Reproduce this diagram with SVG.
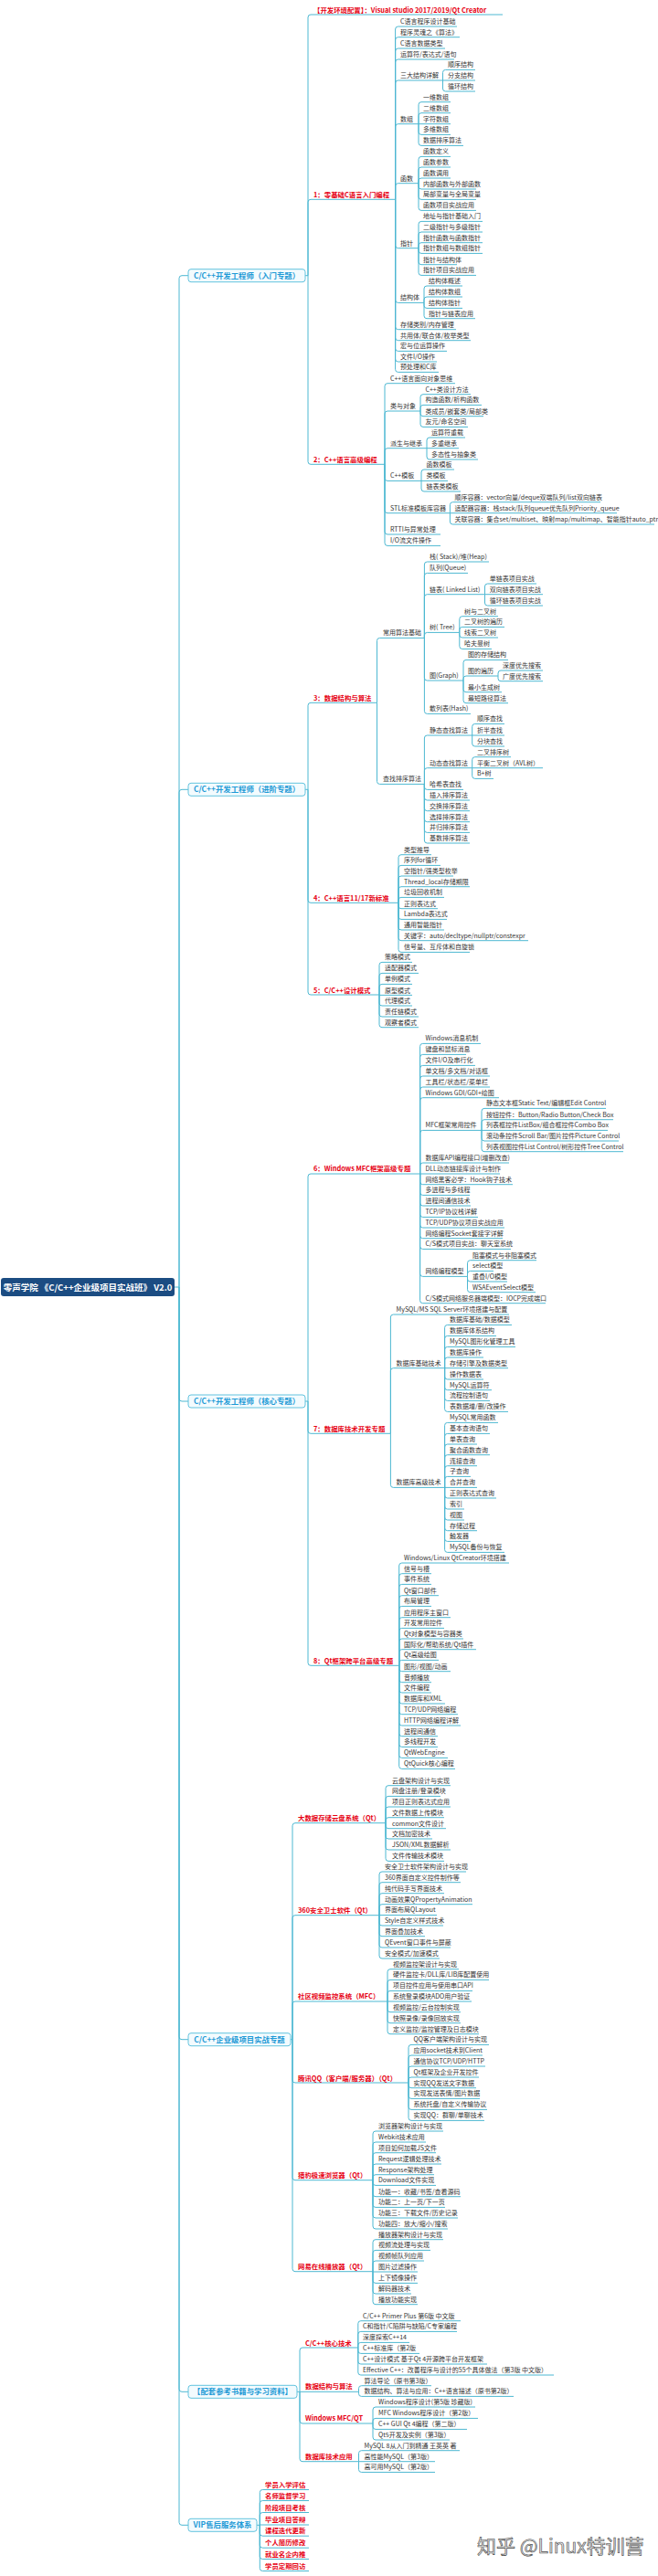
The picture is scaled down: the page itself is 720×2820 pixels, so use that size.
<svg xmlns="http://www.w3.org/2000/svg" width="720" height="2820" viewBox="0 0 720 2820">
<style>
text{font-family:"Noto Sans CJK SC","Noto Sans",sans-serif}
.l{font-size:7px;fill:#333}
.r{font-size:7.4px;font-weight:bold;fill:#e60012}
.b{font-size:8.4px;font-weight:bold;fill:#1e9ad6;text-anchor:middle}
.bx{fill:#f3fbfe;stroke:#62c3de;stroke-width:1}
.c path{fill:none;stroke:#4db8d2;stroke-width:1}
</style>
<rect width="720" height="2820" fill="#fff"/>
<g id="connectors" class="c">
<path d="M191 1409H196M196 1409V304.7q0-3 3-3H206M196 1409V867.3q0-3 3-3H206M196 1409V1531q0 3 3 3H206M196 1409V2229.7q0 3 3 3H206M196 1409V2615.3q0 3 3 3H206M196 1409V2761.3q0 3 3 3H206"/>
<path d="M334 301.7H337M337 301.7V19q0-3 3-3H550M337 301.7V221.3q0-3 3-3H432.6M337 301.7V505.3q0 3 3 3H421"/>
<path d="M432.6 218.3V32q0-3 3-3H500M432.6 218.3V43.7q0-3 3-3H503M432.6 218.3V56q0-3 3-3H487M432.6 218.3V68q0-3 3-3H497M432.6 218.3V91q0-3 3-3H484.5M432.6 218.3V138.7q0-3 3-3H458M432.6 218.3V203.7q0-3 3-3H458M432.6 218.3V268.7q0 3 3 3H458M432.6 218.3V328.4q0 3 3 3H464M432.6 218.3V357.7q0 3 3 3H499M432.6 218.3V369.7q0 3 3 3H515M432.6 218.3V381.4q0 3 3 3H489M432.6 218.3V393q0 3 3 3H478M432.6 218.3V404.4q0 3 3 3H480"/>
<path d="M484.5 88V79.4q0-3 3-3H520M484.5 88H520M484.5 88V97q0 3 3 3H520"/>
<path d="M458 135.7V114.7q0-3 3-3H493M458 135.7V126.7q0-3 3-3H493M458 135.7H493M458 135.7V144.4q0 3 3 3H493M458 135.7V156.4q0 3 3 3H507"/>
<path d="M458 200.7V174.4q0-3 3-3H493M458 200.7V186q0-3 3-3H493M458 200.7V198q0-3 3-3H493M458 200.7V204q0 3 3 3H521M458 200.7V215.4q0 3 3 3H521M458 200.7V227.4q0 3 3 3H521"/>
<path d="M458 271.7V245.4q0-3 3-3H528M458 271.7V257q0-3 3-3H528M458 271.7V268.7q0-3 3-3H528M458 271.7V274.4q0 3 3 3H528M458 271.7V286.7q0 3 3 3H500M458 271.7V298.4q0 3 3 3H521"/>
<path d="M464 331.4V316q0-3 3-3H506M464 331.4V328q0-3 3-3H506M464 331.4V334.4q0 3 3 3H506M464 331.4V345.7q0 3 3 3H520"/>
<path d="M421 508.3V422.7q0-3 3-3H498M421 508.3V453q0-3 3-3H460M421 508.3V493.7q0-3 3-3H467M421 508.3V523.4q0 3 3 3H461M421 508.3V558.7q0 3 3 3H492.4M421 508.3V582q0 3 3 3H482M421 508.3V594.4q0 3 3 3H482"/>
<path d="M460 450V434.7q0-3 3-3H515M460 450V446.4q0-3 3-3H527M460 450V452.7q0 3 3 3H529M460 450V464.4q0 3 3 3H512"/>
<path d="M467 490.7V482q0-3 3-3H509M467 490.7H502M467 490.7V500q0 3 3 3H523"/>
<path d="M461 526.4V517q0-3 3-3H497M461 526.4H490M461 526.4V535q0 3 3 3H504"/>
<path d="M492.4 561.7V552.7q0-3 3-3H657M492.4 561.7H675M492.4 561.7V571q0 3 3 3H716"/>
<path d="M334 864.3H337M337 864.3V772.3q0-3 3-3H412.5M337 864.3V985.3q0 3 3 3H436M337 864.3V1086q0 3 3 3H415"/>
<path d="M412.5 769.3V701.4q0-3 3-3H464.4M412.5 769.3V855.4q0 3 3 3H464.4"/>
<path d="M464.4 698.4V618q0-3 3-3H535M464.4 698.4V630.4q0-3 3-3H512M464.4 698.4V653.7q0-3 3-3H530.5M464.4 698.4V695.4q0-3 3-3H502.8M464.4 698.4V742q0 3 3 3H507M464.4 698.4V778.4q0 3 3 3H515"/>
<path d="M530.5 650.7V642q0-3 3-3H587M530.5 650.7H594M530.5 650.7V660q0 3 3 3H594"/>
<path d="M502.8 692.4V677.7q0-3 3-3H545M502.8 692.4V689.4q0-3 3-3H552M502.8 692.4V695q0 3 3 3H545M502.8 692.4V707.4q0 3 3 3H538"/>
<path d="M507 745V725.4q0-3 3-3H556M507 745V743q0-3 3-3H545M507 745V754.7q0 3 3 3H549M507 745V766.7q0 3 3 3H556"/>
<path d="M545 740V737q0-3 3-3H594M545 740V742.7q0 3 3 3H594"/>
<path d="M464.4 858.4V808q0-3 3-3H516.7M464.4 858.4V843.7q0-3 3-3H516.7M464.4 858.4V861.4q0 3 3 3H507M464.4 858.4V873q0 3 3 3H514M464.4 858.4V884.7q0 3 3 3H514M464.4 858.4V896.7q0 3 3 3H514M464.4 858.4V908.4q0 3 3 3H514M464.4 858.4V920q0 3 3 3H514"/>
<path d="M516.7 805V795.4q0-3 3-3H552M516.7 805H552M516.7 805V814q0 3 3 3H552"/>
<path d="M516.7 840.7V831.7q0-3 3-3H559M516.7 840.7H594M516.7 840.7V849.4q0 3 3 3H540"/>
<path d="M436 988.3V938.7q0-3 3-3H472M436 988.3V950.4q0-3 3-3H482M436 988.3V962q0-3 3-3H496M436 988.3V973.7q0-3 3-3H514M436 988.3V985.4q0-3 3-3H486M436 988.3V991.7q0 3 3 3H479M436 988.3V1003.4q0 3 3 3H489M436 988.3V1015q0 3 3 3H486M436 988.3V1026.7q0 3 3 3H578M436 988.3V1039.4q0 3 3 3H514"/>
<path d="M415 1089V1056.4q0-3 3-3H451M415 1089V1068.4q0-3 3-3H458M415 1089V1080.4q0-3 3-3H451M415 1089.4H451M415 1089V1098q0 3 3 3H451M415 1089V1110q0 3 3 3H458M415 1089V1121.7q0 3 3 3H458"/>
<path d="M334 1534H337M337 1534V1288q0-3 3-3H459.6M337 1534V1566.3q0 3 3 3H427.4M337 1534V1820.3q0 3 3 3H436.7"/>
<path d="M459.6 1285V1145.4q0-3 3-3H526M459.6 1285V1157.4q0-3 3-3H510M459.6 1285V1169.4q0-3 3-3H520M459.6 1285V1181q0-3 3-3H536M459.6 1285V1193q0-3 3-3H536M459.6 1285V1204.7q0-3 3-3H546M459.6 1285V1240.4q0-3 3-3H527M459.6 1285V1276q0-3 3-3H557M459.6 1285H547M459.6 1285V1293.7q0 3 3 3H561M459.6 1285V1305.4q0 3 3 3H514M459.6 1285V1317q0 3 3 3H515M459.6 1285V1329.4q0 3 3 3H523M459.6 1285V1341q0 3 3 3H552M459.6 1285V1352.7q0 3 3 3H550M459.6 1285V1364.4q0 3 3 3H559M459.6 1285V1394.4q0 3 3 3H511.5M459.6 1285V1423.7q0 3 3 3H597"/>
<path d="M527 1237.4V1216.4q0-3 3-3H663M527 1237.4V1228.7q0-3 3-3H671M527 1237.4H665M527 1237.4V1246q0 3 3 3H677M527 1237.4V1257.7q0 3 3 3H682"/>
<path d="M511.5 1397.4V1382.7q0-3 3-3H587M511.5 1397.4V1394.4q0-3 3-3H540M511.5 1397.4V1400q0 3 3 3H555M511.5 1397.4V1411.7q0 3 3 3H586"/>
<path d="M427.4 1569.3V1442q0-3 3-3H557M427.4 1569.3V1500.7q0-3 3-3H486.6M427.4 1569.3V1625.4q0 3 3 3H486.6"/>
<path d="M486.6 1497.7V1453.4q0-3 3-3H560M486.6 1497.7V1465.4q0-3 3-3H543M486.6 1497.7V1477.4q0-3 3-3H564M486.6 1497.7V1489q0-3 3-3H529M486.6 1497.7H556M486.6 1497.7V1507q0 3 3 3H529M486.6 1497.7V1518.7q0 3 3 3H538M486.6 1497.7V1530.4q0 3 3 3H536M486.6 1497.7V1542.4q0 3 3 3H556"/>
<path d="M486.6 1628.4V1560.4q0-3 3-3H545M486.6 1628.4V1572.4q0-3 3-3H536M486.6 1628.4V1584q0-3 3-3H522M486.6 1628.4V1595.7q0-3 3-3H536M486.6 1628.4V1607.7q0-3 3-3H522M486.6 1628.4V1619.4q0-3 3-3H515M486.6 1628.4H522M486.6 1628.4V1637q0 3 3 3H543M486.6 1628.4V1649q0 3 3 3H508M486.6 1628.4V1661q0 3 3 3H508M486.6 1628.4V1672.7q0 3 3 3H522M486.6 1628.4V1684.4q0 3 3 3H515M486.6 1628.4V1696.4q0 3 3 3H552"/>
<path d="M436.7 1823.3V1714q0-3 3-3H557M436.7 1823.3V1725.7q0-3 3-3H472M436.7 1823.3V1737.4q0-3 3-3H472M436.7 1823.3V1749.7q0-3 3-3H480M436.7 1823.3V1761.4q0-3 3-3H472M436.7 1823.3V1773.7q0-3 3-3H493M436.7 1823.3V1785.4q0-3 3-3H486M436.7 1823.3V1797q0-3 3-3H507M436.7 1823.3V1808.7q0-3 3-3H521M436.7 1823.3V1820.4q0-3 3-3H480M436.7 1823.3V1826.7q0 3 3 3H493M436.7 1823.3V1838.7q0 3 3 3H472M436.7 1823.3V1850q0 3 3 3H472M436.7 1823.3V1862q0 3 3 3H487M436.7 1823.3V1873.7q0 3 3 3H501M436.7 1823.3V1886q0 3 3 3H504M436.7 1823.3V1897.7q0 3 3 3H479M436.7 1823.3V1909.4q0 3 3 3H479M436.7 1823.3V1921.4q0 3 3 3H490M436.7 1823.3V1933.4q0 3 3 3H498"/>
<path d="M318 2232.7H320M320 2232.7V1998.7q0-3 3-3H422M320 2232.7V2099.7q0-3 3-3H415M320 2232.7V2194q0-3 3-3H424M320 2232.7V2277q0 3 3 3H447M320 2232.7V2383.7q0 3 3 3H408M320 2232.7V2483.7q0 3 3 3H408"/>
<path d="M422 1995.7V1957.7q0-3 3-3H493M422 1995.7V1969.4q0-3 3-3H482M422 1995.7V1981q0-3 3-3H493M422 1995.7V1992.7q0-3 3-3H486M422 1995.7V1998.7q0 3 3 3H488M422 1995.7V2010q0 3 3 3H473M422 1995.7V2022q0 3 3 3H493M422 1995.7V2034.4q0 3 3 3H486"/>
<path d="M415 2096.7V2052q0-3 3-3H510M415 2096.7V2063.7q0-3 3-3H504M415 2096.7V2075.7q0-3 3-3H486M415 2096.7V2087.7q0-3 3-3H517M415 2096.5H478M415 2096.7V2105q0 3 3 3H485M415 2096.7V2116.7q0 3 3 3H465M415 2096.7V2129q0 3 3 3H493M415 2096.7V2141q0 3 3 3H481"/>
<path d="M424 2191V2158.7q0-3 3-3H502M424 2191V2170.4q0-3 3-3H535M424 2191V2182.4q0-3 3-3H517M424 2191H516M424 2191V2199.7q0 3 3 3H504M424 2191V2211.7q0 3 3 3H504M424 2191V2223.7q0 3 3 3H524"/>
<path d="M447 2280V2241.4q0-3 3-3H535M447 2280V2253q0-3 3-3H528M447 2280V2265q0-3 3-3H531M447 2280V2277q0-3 3-3H524M447 2280V2282.7q0 3 3 3H521M447 2280V2294.4q0 3 3 3H525M447 2280V2306.4q0 3 3 3H533M447 2280V2318.4q0 3 3 3H530"/>
<path d="M408 2386.7V2336q0-3 3-3H485M408 2386.7V2348q0-3 3-3H466M408 2386.7V2359.7q0-3 3-3H477M408 2386.7V2372q0-3 3-3H483M408 2386.7V2383.7q0-3 3-3H475M408 2386.7V2389.4q0 3 3 3H477M408 2386.7V2401.7q0 3 3 3H504M408 2386.7V2413.4q0 3 3 3H487M408 2386.7V2425q0 3 3 3H501M408 2386.7V2437q0 3 3 3H490"/>
<path d="M408 2486.7V2454.7q0-3 3-3H485M408 2486.7V2466.4q0-3 3-3H471M408 2486.7V2478q0-3 3-3H464M408 2487H457M408 2486.7V2496.4q0 3 3 3H457M408 2486.7V2508q0 3 3 3H450M408 2486.7V2519.7q0 3 3 3H457"/>
<path d="M325 2618.3H328M328 2618.3V2573q0-3 3-3H391.8M328 2618.3H392.5M328 2618.3V2650q0 3 3 3H408M328 2618.3V2691.7q0 3 3 3H392.5"/>
<path d="M391.8 2570V2543.7q0-3 3-3H504M391.8 2570V2555.4q0-3 3-3H500M391.8 2570V2567.4q0-3 3-3H448M391.8 2570V2573.4q0 3 3 3H459M391.8 2570V2585q0 3 3 3H533M391.8 2570V2597q0 3 3 3H606"/>
<path d="M392.5 2618.3V2614.7q0-3 3-3H472M392.5 2618.3V2620.4q0 3 3 3H562"/>
<path d="M408 2653V2638q0-3 3-3H520M408 2653V2650.4q0-3 3-3H523M408 2653V2656.4q0 3 3 3H511M408 2653V2668q0 3 3 3H492"/>
<path d="M392.5 2694.7V2685.7q0-3 3-3H503M392.5 2694.7H476M392.5 2694.7V2703.4q0 3 3 3H476"/>
<path d="M281 2764.3H284.3M284.3 2764.3V2728.5q0-3 3-3H338M284.3 2764.3V2740.5q0-3 3-3H338M284.3 2764.3V2753.5q0-3 3-3H338M284.3 2764H338M284.3 2764.3V2773.2q0 3 3 3H338M284.3 2764.3V2786.2q0 3 3 3H338M284.3 2764.3V2798.5q0 3 3 3H338M284.3 2764.3V2811.5q0 3 3 3H338"/>
</g>
<g id="root"><rect x="1" y="1399" width="190" height="20" rx="3" fill="#1b4c82"/><text x="96" y="1412.5" font-size="9.5" font-weight="bold" fill="#fff" text-anchor="middle">零声学院 《C/C++企业级项目实战班》 V2.0</text></g>
<g id="t1"><rect class="bx" x="206" y="294.7" width="128" height="14" rx="3"/><text class="b" x="270" y="304.7">C/C++开发工程师（入门专题）</text></g>
<g id="t2"><rect class="bx" x="206" y="857.3" width="128" height="14" rx="3"/><text class="b" x="270" y="867.3">C/C++开发工程师（进阶专题）</text></g>
<g id="t3"><rect class="bx" x="206" y="1527" width="128" height="14" rx="3"/><text class="b" x="270" y="1537">C/C++开发工程师（核心专题）</text></g>
<g id="t4"><rect class="bx" x="206" y="2225.7" width="112" height="14" rx="3"/><text class="b" x="262" y="2235.7">C/C++企业级项目实战专题</text></g>
<g id="t5"><rect class="bx" x="206" y="2611.3" width="119" height="14" rx="3"/><text class="b" x="265.5" y="2621.3">【配套参考书籍与学习资料】</text></g>
<g id="t6"><rect class="bx" x="206" y="2757.3" width="75" height="14" rx="3"/><text class="b" x="243.5" y="2767.3">VIP售后服务体系</text></g>
<g id="s-red" class="r">
<g id="s0"><text x="343" y="13.5">【开发环境配置】：Visual studio 2017/2019/Qt Creator</text></g>
<g id="s1"><text x="343" y="215.8">1：零基础C语言入门编程</text></g>
<g id="s2"><text x="343" y="505.8">2：C++语言高级编程</text></g>
<g id="s3"><text x="343" y="766.8">3：数据结构与算法</text></g>
<g id="s4"><text x="343" y="985.8">4：C++语言11/17新标准</text></g>
<g id="s5"><text x="343" y="1086.5">5：C/C++设计模式</text></g>
<g id="s6"><text x="343" y="1281.8">6：Windows MFC框架高级专题</text></g>
<g id="s7"><text x="343" y="1566.5">7：数据库技术开发专题</text></g>
<g id="s8"><text x="343" y="1820.8">8：Qt框架跨平台高级专题</text></g>
<g id="p1"><text x="326" y="1992.5">大数据存储云盘系统（Qt）</text></g>
<g id="p2"><text x="326" y="2093.5">360安全卫士软件（Qt）</text></g>
<g id="p3"><text x="326" y="2188.2">社区视频监控系统（MFC）</text></g>
<g id="p4"><text x="326" y="2277.5">腾讯QQ（客户端/服务器）（Qt）</text></g>
<g id="p5"><text x="326" y="2384.2">猎豹极速浏览器（Qt）</text></g>
<g id="p6"><text x="326" y="2484.2">网易在线播放器（Qt）</text></g>
<g id="k1"><text x="334" y="2567.5">C/C++核心技术</text></g>
<g id="k2"><text x="334" y="2615.2">数据结构与算法</text></g>
<g id="k3"><text x="334" y="2650.2">Windows MFC/QT</text></g>
<g id="k4"><text x="334" y="2691.8">数据库技术应用</text></g>
<g id="v1"><text x="290" y="2722.7">学员入学评估</text></g>
<g id="v2"><text x="290" y="2734.7">名师监督学习</text></g>
<g id="v3"><text x="290" y="2747.7">阶段项目考核</text></g>
<g id="v4"><text x="290" y="2761">毕业项目答辩</text></g>
<g id="v5"><text x="290" y="2773.4">课程迭代更新</text></g>
<g id="v6"><text x="290" y="2786.4">个人简历修改</text></g>
<g id="v7"><text x="290" y="2798.7">就业名企内推</text></g>
<g id="v8"><text x="290" y="2811.7">学员定期回访</text></g>
</g>
<g id="leaves" class="l">
<g id="a1"><text x="438" y="25.8">C语言程序设计基础</text></g>
<g id="a2"><text x="438" y="37.5">程序灵魂之《算法》</text></g>
<g id="a3"><text x="438" y="49.8">C语言数据类型</text></g>
<g id="a4"><text x="438" y="61.8">运算符/表达式/语句</text></g>
<g id="a5"><text x="438" y="84.8">三大结构详解</text></g>
<g id="a5a"><text x="490" y="73.2">顺序结构</text></g>
<g id="a5b"><text x="490" y="84.8">分支结构</text></g>
<g id="a5c"><text x="490" y="96.8">循环结构</text></g>
<g id="a6"><text x="438" y="132.5">数组</text></g>
<g id="a6a"><text x="463" y="108.5">一维数组</text></g>
<g id="a6b"><text x="463" y="120.5">二维数组</text></g>
<g id="a6c"><text x="463" y="132.5">字符数组</text></g>
<g id="a6d"><text x="463" y="144.2">多维数组</text></g>
<g id="a6e"><text x="463" y="156.2">数据排序算法</text></g>
<g id="a7"><text x="438" y="197.5">函数</text></g>
<g id="a7a"><text x="463" y="168.2">函数定义</text></g>
<g id="a7b"><text x="463" y="179.8">函数参数</text></g>
<g id="a7c"><text x="463" y="191.8">函数调用</text></g>
<g id="a7d"><text x="463" y="203.8">内部函数与外部函数</text></g>
<g id="a7e"><text x="463" y="215.2">局部变量与全局变量</text></g>
<g id="a7f"><text x="463" y="227.2">函数项目实战应用</text></g>
<g id="a8"><text x="438" y="268.5">指针</text></g>
<g id="a8a"><text x="463" y="239.2">地址与指针基础入门</text></g>
<g id="a8b"><text x="463" y="250.8">二级指针与多级指针</text></g>
<g id="a8c"><text x="463" y="262.5">指针函数与函数指针</text></g>
<g id="a8d"><text x="463" y="274.2">指针数组与数组指针</text></g>
<g id="a8e"><text x="463" y="286.5">指针与结构体</text></g>
<g id="a8f"><text x="463" y="298.2">指针项目实战应用</text></g>
<g id="a9"><text x="438" y="328.2">结构体</text></g>
<g id="a9a"><text x="469" y="309.8">结构体概述</text></g>
<g id="a9b"><text x="469" y="321.8">结构体数组</text></g>
<g id="a9c"><text x="469" y="334.2">结构体指针</text></g>
<g id="a9d"><text x="469" y="345.5">指针与链表应用</text></g>
<g id="a10"><text x="438" y="357.5">存储类别/内存管理</text></g>
<g id="a11"><text x="438" y="369.5">共用体/联合体/枚举类型</text></g>
<g id="a12"><text x="438" y="381.2">宏与位运算操作</text></g>
<g id="a13"><text x="438" y="392.8">文件I/O操作</text></g>
<g id="a14"><text x="438" y="404.2">预处理和C库</text></g>
<g id="b1"><text x="427" y="416.5">C++语言面向对象思维</text></g>
<g id="b2"><text x="427" y="446.8">类与对象</text></g>
<g id="b2a"><text x="465.5" y="428.5">C++类设计方法</text></g>
<g id="b2b"><text x="465.5" y="440.2">构造函数/析构函数</text></g>
<g id="b2c"><text x="465.5" y="452.5">类成员/嵌套类/局部类</text></g>
<g id="b2d"><text x="465.5" y="464.2">友元/命名空间</text></g>
<g id="b3"><text x="427" y="487.5">派生与继承</text></g>
<g id="b3a"><text x="472" y="475.8">运算符重载</text></g>
<g id="b3b"><text x="472" y="487.5">多重继承</text></g>
<g id="b3c"><text x="472" y="499.8">多态性与抽象类</text></g>
<g id="b4"><text x="427" y="523.2">C++模板</text></g>
<g id="b4a"><text x="466.5" y="510.8">函数模板</text></g>
<g id="b4b"><text x="466.5" y="523.2">类模板</text></g>
<g id="b4c"><text x="466.5" y="534.8">链表类模板</text></g>
<g id="b5"><text x="427" y="558.5">STL标准模板库容器</text></g>
<g id="b5a"><text x="497.6" y="546.5">顺序容器：vector向量/deque双端队列/list双向链表</text></g>
<g id="b5b"><text x="497.6" y="558.5">适配器容器：栈stack/队列queue优先队列Priority_queue</text></g>
<g id="b5c"><text x="497.6" y="570.8">关联容器：集合set/multiset、映射map/multimap、智能指针auto_ptr</text></g>
<g id="b6"><text x="427" y="581.8">RTTI与异常处理</text></g>
<g id="b7"><text x="427" y="594.2">I/O流文件操作</text></g>
<g id="c1"><text x="419" y="695.2">常用算法基础</text></g>
<g id="c1a"><text x="470" y="611.8">栈( Stack)/堆(Heap)</text></g>
<g id="c1b"><text x="470" y="624.2">队列(Queue)</text></g>
<g id="c1c"><text x="470" y="647.5">链表( Linked List)</text></g>
<g id="c1c1"><text x="535.7" y="635.8">单链表项目实战</text></g>
<g id="c1c2"><text x="535.7" y="647.5">双向链表项目实战</text></g>
<g id="c1c3"><text x="535.7" y="659.8">循环链表项目实战</text></g>
<g id="c1d"><text x="470" y="689.2">树( Tree)</text></g>
<g id="c1d1"><text x="508" y="671.5">树与二叉树</text></g>
<g id="c1d2"><text x="508" y="683.2">二叉树的遍历</text></g>
<g id="c1d3"><text x="508" y="694.8">线索二叉树</text></g>
<g id="c1d4"><text x="508" y="707.2">哈夫曼树</text></g>
<g id="c1e"><text x="470" y="741.8">图(Graph)</text></g>
<g id="c1e1"><text x="512" y="719.2">图的存储结构</text></g>
<g id="c1e2"><text x="512" y="736.8">图的遍历</text></g>
<g id="c1e2a"><text x="550" y="730.8">深度优先搜索</text></g>
<g id="c1e2b"><text x="550" y="742.5">广度优先搜索</text></g>
<g id="c1e3"><text x="512" y="754.5">最小生成树</text></g>
<g id="c1e4"><text x="512" y="766.5">最短路径算法</text></g>
<g id="c1f"><text x="470" y="778.2">散列表(Hash)</text></g>
<g id="c2"><text x="419" y="855.2">查找排序算法</text></g>
<g id="c2a"><text x="470" y="801.8">静态查找算法</text></g>
<g id="c2a1"><text x="522" y="789.2">顺序查找</text></g>
<g id="c2a2"><text x="522" y="801.8">折半查找</text></g>
<g id="c2a3"><text x="522" y="813.8">分块查找</text></g>
<g id="c2b"><text x="470" y="837.5">动态查找算法</text></g>
<g id="c2b1"><text x="522" y="825.5">二叉排序树</text></g>
<g id="c2b2"><text x="522" y="837.5">平衡二叉树（AVL树）</text></g>
<g id="c2b3"><text x="522" y="849.2">B+树</text></g>
<g id="c2c"><text x="470" y="861.2">哈希表查找</text></g>
<g id="c2d"><text x="470" y="872.8">插入排序算法</text></g>
<g id="c2e"><text x="470" y="884.5">交换排序算法</text></g>
<g id="c2f"><text x="470" y="896.5">选择排序算法</text></g>
<g id="c2g"><text x="470" y="908.2">并归排序算法</text></g>
<g id="c2h"><text x="470" y="919.8">基数排序算法</text></g>
<g id="d1"><text x="442" y="932.5">类型推导</text></g>
<g id="d2"><text x="442" y="944.2">序列for循环</text></g>
<g id="d3"><text x="442" y="955.8">空指针/强类型枚举</text></g>
<g id="d4"><text x="442" y="967.5">Thread_local存储期限</text></g>
<g id="d5"><text x="442" y="979.2">垃圾回收机制</text></g>
<g id="d6"><text x="442" y="991.5">正则表达式</text></g>
<g id="d7"><text x="442" y="1003.2">Lambda表达式</text></g>
<g id="d8"><text x="442" y="1014.8">通用智能指针</text></g>
<g id="d9"><text x="442" y="1026.5">关键字：auto/decltype/nullptr/constexpr</text></g>
<g id="d10"><text x="442" y="1039.2">信号量、互斥体和自旋锁</text></g>
<g id="e1"><text x="421" y="1050.2">策略模式</text></g>
<g id="e2"><text x="421" y="1062.2">适配器模式</text></g>
<g id="e3"><text x="421" y="1074.2">单例模式</text></g>
<g id="e4"><text x="421" y="1086.5">原型模式</text></g>
<g id="e5"><text x="421" y="1097.8">代理模式</text></g>
<g id="e6"><text x="421" y="1109.8">责任链模式</text></g>
<g id="e7"><text x="421" y="1121.5">观察者模式</text></g>
<g id="f1"><text x="465.5" y="1139.2">Windows消息机制</text></g>
<g id="f2"><text x="465.5" y="1151.2">键盘和鼠标消息</text></g>
<g id="f3"><text x="465.5" y="1163.2">文件I/O及串行化</text></g>
<g id="f4"><text x="465.5" y="1174.8">单文档/多文档/对话框</text></g>
<g id="f5"><text x="465.5" y="1186.8">工具栏/状态栏/菜单栏</text></g>
<g id="f6"><text x="465.5" y="1198.5">Windows GDI/GDI+绘图</text></g>
<g id="f7"><text x="465.5" y="1234.2">MFC框架常用控件</text></g>
<g id="f7a"><text x="532" y="1210.2">静态文本框Static Text/编辑框Edit Control</text></g>
<g id="f7b"><text x="532" y="1222.5">按钮控件：Button/Radio Button/Check Box</text></g>
<g id="f7c"><text x="532" y="1234.2">列表框控件ListBox/组合框控件Combo Box</text></g>
<g id="f7d"><text x="532" y="1245.8">滚动条控件Scroll Bar/图片控件Picture Control</text></g>
<g id="f7e"><text x="532" y="1257.5">列表视图控件List Control/树形控件Tree Control</text></g>
<g id="f8"><text x="465.5" y="1269.8">数据库API编程接口(增删改查)</text></g>
<g id="f9"><text x="465.5" y="1281.8">DLL动态链接库设计与制作</text></g>
<g id="f10"><text x="465.5" y="1293.5">网络黑客必学：Hook钩子技术</text></g>
<g id="f11"><text x="465.5" y="1305.2">多进程与多线程</text></g>
<g id="f12"><text x="465.5" y="1316.8">进程间通信技术</text></g>
<g id="f13"><text x="465.5" y="1329.2">TCP/IP协议栈详解</text></g>
<g id="f14"><text x="465.5" y="1340.8">TCP/UDP协议项目实战应用</text></g>
<g id="f15"><text x="465.5" y="1352.5">网络编程Socket套接字详解</text></g>
<g id="f16"><text x="465.5" y="1364.2">C/S模式项目实战：聊天室系统</text></g>
<g id="f17"><text x="465.5" y="1394.2">网络编程模型</text></g>
<g id="f17a"><text x="517" y="1376.5">阻塞模式与非阻塞模式</text></g>
<g id="f17b"><text x="517" y="1388.2">select模型</text></g>
<g id="f17c"><text x="517" y="1399.8">重叠I/O模型</text></g>
<g id="f17d"><text x="517" y="1411.5">WSAEventSelect模型</text></g>
<g id="f18"><text x="465.5" y="1423.5">C/S模式网络服务器端模型：IOCP完成端口</text></g>
<g id="g1"><text x="433.6" y="1435.8">MySQL/MS SQL Server环境搭建与配置</text></g>
<g id="g2"><text x="433.6" y="1494.5">数据库基础技术</text></g>
<g id="g2a"><text x="492" y="1447.2">数据库基础/数据模型</text></g>
<g id="g2b"><text x="492" y="1459.2">数据库体系结构</text></g>
<g id="g2c"><text x="492" y="1471.2">MySQL图形化管理工具</text></g>
<g id="g2d"><text x="492" y="1482.8">数据库操作</text></g>
<g id="g2e"><text x="492" y="1494.5">存储引擎及数据类型</text></g>
<g id="g2f"><text x="492" y="1506.8">操作数据表</text></g>
<g id="g2g"><text x="492" y="1518.5">MySQL运算符</text></g>
<g id="g2h"><text x="492" y="1530.2">流程控制语句</text></g>
<g id="g2i"><text x="492" y="1542.2">表数据增/删/改操作</text></g>
<g id="g3"><text x="433.6" y="1625.2">数据库高级技术</text></g>
<g id="g3a"><text x="492" y="1554.2">MySQL常用函数</text></g>
<g id="g3b"><text x="492" y="1566.2">基本查询语句</text></g>
<g id="g3c"><text x="492" y="1577.8">单表查询</text></g>
<g id="g3d"><text x="492" y="1589.5">聚合函数查询</text></g>
<g id="g3e"><text x="492" y="1601.5">连接查询</text></g>
<g id="g3f"><text x="492" y="1613.2">子查询</text></g>
<g id="g3g"><text x="492" y="1625.2">合并查询</text></g>
<g id="g3h"><text x="492" y="1636.8">正则表达式查询</text></g>
<g id="g3i"><text x="492" y="1648.8">索引</text></g>
<g id="g3j"><text x="492" y="1660.8">视图</text></g>
<g id="g3k"><text x="492" y="1672.5">存储过程</text></g>
<g id="g3l"><text x="492" y="1684.2">触发器</text></g>
<g id="g3m"><text x="492" y="1696.2">MySQL备份与恢复</text></g>
<g id="h1"><text x="442" y="1707.8">Windows/Linux QtCreator环境搭建</text></g>
<g id="h2"><text x="442" y="1719.5">信号与槽</text></g>
<g id="h3"><text x="442" y="1731.2">事件系统</text></g>
<g id="h4"><text x="442" y="1743.5">Qt窗口部件</text></g>
<g id="h5"><text x="442" y="1755.2">布局管理</text></g>
<g id="h6"><text x="442" y="1767.5">应用程序主窗口</text></g>
<g id="h7"><text x="442" y="1779.2">开发常用控件</text></g>
<g id="h8"><text x="442" y="1790.8">Qt对象模型与容器类</text></g>
<g id="h9"><text x="442" y="1802.5">国际化/帮助系统/Qt插件</text></g>
<g id="h10"><text x="442" y="1814.2">Qt高级绘图</text></g>
<g id="h11"><text x="442" y="1826.5">图形/视图/动画</text></g>
<g id="h12"><text x="442" y="1838.5">音频播放</text></g>
<g id="h13"><text x="442" y="1849.8">文件编程</text></g>
<g id="h14"><text x="442" y="1861.8">数据库和XML</text></g>
<g id="h15"><text x="442" y="1873.5">TCP/UDP网络编程</text></g>
<g id="h16"><text x="442" y="1885.8">HTTP网络编程详解</text></g>
<g id="h17"><text x="442" y="1897.5">进程间通信</text></g>
<g id="h18"><text x="442" y="1909.2">多线程开发</text></g>
<g id="h19"><text x="442" y="1921.2">QtWebEngine</text></g>
<g id="h20"><text x="442" y="1933.2">QtQuick核心编程</text></g>
<g id="i1"><text x="429" y="1951.5">云盘架构设计与实现</text></g>
<g id="i2"><text x="429" y="1963.2">网盘注册/登录模块</text></g>
<g id="i3"><text x="429" y="1974.8">项目正则表达式应用</text></g>
<g id="i4"><text x="429" y="1986.5">文件数据上传模块</text></g>
<g id="i5"><text x="429" y="1998.5">common文件设计</text></g>
<g id="i6"><text x="429" y="2009.8">文档加密技术</text></g>
<g id="i7"><text x="429" y="2021.8">JSON/XML数据解析</text></g>
<g id="i8"><text x="429" y="2034.2">文件传输技术模块</text></g>
<g id="j1"><text x="421" y="2045.8">安全卫士软件架构设计与实现</text></g>
<g id="j2"><text x="421" y="2057.5">360界面自定义控件制作等</text></g>
<g id="j3"><text x="421" y="2069.5">纯代码手写界面技术</text></g>
<g id="j4"><text x="421" y="2081.5">动画效果QPropertyAnimation</text></g>
<g id="j5"><text x="421" y="2093.2">界面布局QLayout</text></g>
<g id="j6"><text x="421" y="2104.8">Style自定义样式技术</text></g>
<g id="j7"><text x="421" y="2116.5">界面叠加技术</text></g>
<g id="j8"><text x="421" y="2128.8">QEvent窗口事件与屏蔽</text></g>
<g id="j9"><text x="421" y="2140.8">安全模式/加速模式</text></g>
<g id="m1"><text x="430" y="2152.5">视频监控架设计与实现</text></g>
<g id="m2"><text x="430" y="2164.2">硬件监控卡/DLL库/LIB库配置使用</text></g>
<g id="m3"><text x="430" y="2176.2">项目控件应用与使用串口API</text></g>
<g id="m4"><text x="430" y="2187.8">系统登录模块ADO用户验证</text></g>
<g id="m5"><text x="430" y="2199.5">视频监控/云台控制实现</text></g>
<g id="m6"><text x="430" y="2211.5">快照录像/录像回放实现</text></g>
<g id="m7"><text x="430" y="2223.5">定义监控/监控管理及日志模块</text></g>
<g id="q1"><text x="452.6" y="2235.2">QQ客户端架构设计与实现</text></g>
<g id="q2"><text x="452.6" y="2246.8">应用socket技术到Client</text></g>
<g id="q3"><text x="452.6" y="2258.8">通信协议TCP/UDP/HTTP</text></g>
<g id="q4"><text x="452.6" y="2270.8">Qt框架及企业开发控件</text></g>
<g id="q5"><text x="452.6" y="2282.5">实现QQ发送文字数据</text></g>
<g id="q6"><text x="452.6" y="2294.2">实现发送表情/图片数据</text></g>
<g id="q7"><text x="452.6" y="2306.2">系统托盘/自定义传输协议</text></g>
<g id="q8"><text x="452.6" y="2318.2">实现QQ：群聊/单聊技术</text></g>
<g id="w1"><text x="414" y="2329.8">浏览器架构设计与实现</text></g>
<g id="w2"><text x="414" y="2341.8">Webkit技术应用</text></g>
<g id="w3"><text x="414" y="2353.5">项目如何加载JS文件</text></g>
<g id="w4"><text x="414" y="2365.8">Request逻辑处理技术</text></g>
<g id="w5"><text x="414" y="2377.5">Response架构处理</text></g>
<g id="w6"><text x="414" y="2389.2">Download文件实现</text></g>
<g id="w7"><text x="414" y="2401.5">功能一：收藏/书签/查看源码</text></g>
<g id="w8"><text x="414" y="2413.2">功能二：上一页/下一页</text></g>
<g id="w9"><text x="414" y="2424.8">功能三：下载文件/历史记录</text></g>
<g id="w10"><text x="414" y="2436.8">功能四：放大/缩小/搜索</text></g>
<g id="y1"><text x="414" y="2448.5">播放器架构设计与实现</text></g>
<g id="y2"><text x="414" y="2460.2">视频流处理与实现</text></g>
<g id="y3"><text x="414" y="2471.8">视频帧队列应用</text></g>
<g id="y4"><text x="414" y="2484.2">图片过滤操作</text></g>
<g id="y5"><text x="414" y="2496.2">上下镜像操作</text></g>
<g id="y6"><text x="414" y="2507.8">解码器技术</text></g>
<g id="y7"><text x="414" y="2519.5">播放功能实现</text></g>
<g id="k1a"><text x="397" y="2537.5">C/C++ Primer Plus 第6版 中文版</text></g>
<g id="k1b"><text x="397" y="2549.2">C和指针/C陷阱与缺陷/C专家编程</text></g>
<g id="k1c"><text x="397" y="2561.2">深度探索C++14</text></g>
<g id="k1d"><text x="397" y="2573.2">C++标准库（第2版</text></g>
<g id="k1e"><text x="397" y="2584.8">C++设计模式 基于Qt 4开源跨平台开发框架</text></g>
<g id="k1f"><text x="397" y="2596.8">Effective C++：改善程序与设计的55个具体做法（第3版 中文版）</text></g>
<g id="k2a"><text x="398.5" y="2608.5">算法导论（原书第3版）</text></g>
<g id="k2b"><text x="398.5" y="2620.2">数据结构、算法与应用：C++语言描述（原书第2版）</text></g>
<g id="k3a"><text x="414" y="2631.8">Windows程序设计(第5版 珍藏版)</text></g>
<g id="k3b"><text x="414" y="2644.2">MFC Windows程序设计（第2版）</text></g>
<g id="k3c"><text x="414" y="2656.2">C++ GUI Qt 4编程（第二版）</text></g>
<g id="k3d"><text x="414" y="2667.8">Qt5开发及实例（第3版）</text></g>
<g id="k4a"><text x="398.5" y="2679.5">MySQL 8从入门到精通 王英英 著</text></g>
<g id="k4b"><text x="398.5" y="2691.5">高性能MySQL（第3版）</text></g>
<g id="k4c"><text x="398.5" y="2703.2">高可用MySQL（第2版）</text></g>
</g>
<g id="watermark"><text x="522" y="2795" font-size="21" fill="#e6e6e6" stroke="#444" stroke-width="0.6">知乎 @Linux特训营</text></g>
</svg>
